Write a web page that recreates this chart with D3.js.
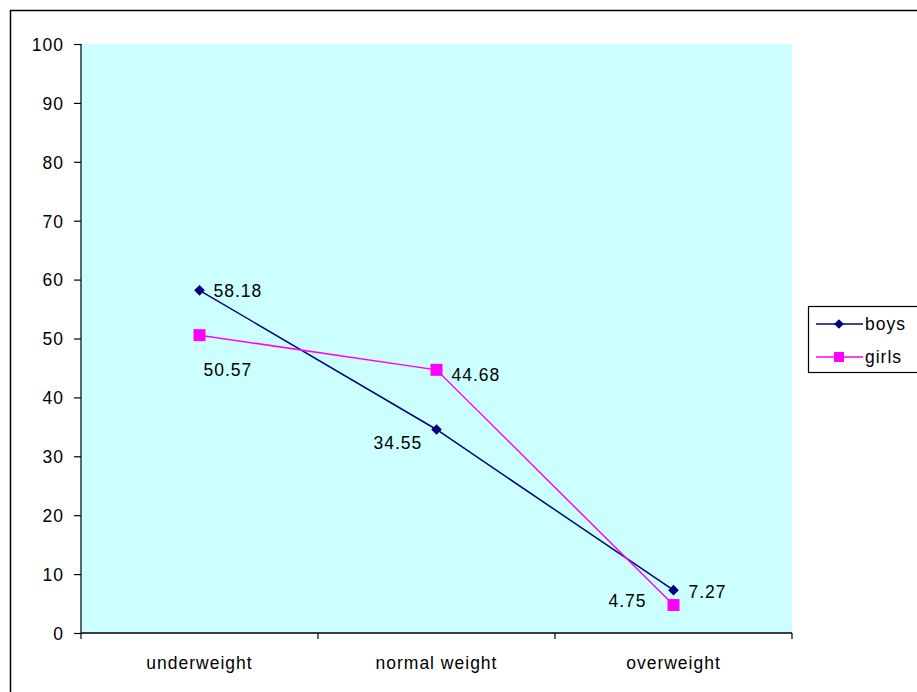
<!DOCTYPE html>
<html>
<head>
<meta charset="utf-8">
<script src="https://cdn.jsdelivr.net/npm/d3@7"></script>
<style>
  html, body { margin: 0; padding: 0; background: #fff; }
  svg { display: block; font-family: Arial, "Liberation Sans", sans-serif; }
  text { font-size: 17.5px; letter-spacing: 1px; fill: #000; }
</style>
</head>
<body>
<svg id="chart" width="917" height="692"></svg>
<script>
// Weight categories and percentages per group
const categories = ["underweight", "normal weight", "overweight"];
const boys = [58.18, 34.55, 7.27];
const girls = [50.57, 44.68, 4.75];
const yTicks = [0, 10, 20, 30, 40, 50, 60, 70, 80, 90, 100];
const seriesNames = ["boys", "girls"];

const svg = d3.select("#chart");
const W = 917, H = 692;
const plot = { left: 81, top: 44, right: 792, bottom: 633 };

// outer chart frame (runs past the right and bottom edges)
svg.append("rect")
  .attr("x", 10.5).attr("y", 10.5)
  .attr("width", W).attr("height", H)
  .attr("fill", "#fff").attr("stroke", "#000").attr("stroke-width", 1.5);

const x = d3.scaleBand().domain(categories).range([plot.left, plot.right]);
const y = d3.scaleLinear().domain([0, 100]).range([plot.bottom, plot.top]);

// plot background
svg.append("rect")
  .attr("x", plot.left).attr("y", plot.top)
  .attr("width", plot.right - plot.left).attr("height", plot.bottom - plot.top)
  .attr("fill", "#CCFFFF");

// y axis
const yAxis = svg.append("g")
  .attr("transform", `translate(${plot.left},0)`)
  .call(d3.axisLeft(y).tickValues(yTicks).tickSize(7).tickPadding(10));
yAxis.attr("font-size", null).attr("font-family", null);
yAxis.selectAll("text").attr("fill", "#000").attr("dy", "0.36em");
yAxis.selectAll("line, path").attr("stroke", "#000").attr("stroke-width", 1.2);
yAxis.select("path").attr("d", `M0,${plot.top}V${plot.bottom}`);

// x axis with ticks between categories
const xAxis = svg.append("g")
  .attr("transform", `translate(0,${plot.bottom})`);
xAxis.append("line")
  .attr("x1", plot.left).attr("x2", plot.right)
  .attr("stroke", "#000").attr("stroke-width", 1.5);
const edges = [plot.left].concat(categories.map(c => x(c) + x.bandwidth()));
xAxis.selectAll("line.tick").data(edges).enter().append("line")
  .attr("class", "tick")
  .attr("x1", d => d).attr("x2", d => d)
  .attr("y1", 0).attr("y2", 6)
  .attr("stroke", "#000").attr("stroke-width", 1.2);
xAxis.selectAll("text").data(categories).enter().append("text")
  .attr("x", d => x(d) + x.bandwidth() / 2)
  .attr("y", 36)
  .attr("text-anchor", "middle")
  .text(d => d);

const cx = c => x(c) + x.bandwidth() / 2;
const line = d3.line().x((d, i) => cx(categories[i])).y(d => y(d));

// boys series
svg.append("path").datum(boys)
  .attr("d", line).attr("fill", "none")
  .attr("stroke", "#000080").attr("stroke-width", 1.5);
svg.selectAll("path.boyMark").data(boys).enter().append("path")
  .attr("class", "boyMark")
  .attr("d", d3.symbol().type(d3.symbolDiamond2).size(72))
  .attr("transform", (d, i) => `translate(${cx(categories[i])},${y(d)})`)
  .attr("fill", "#000080");

// girls series
svg.append("path").datum(girls)
  .attr("d", line).attr("fill", "none")
  .attr("stroke", "#FF00FF").attr("stroke-width", 1.5);
svg.selectAll("rect.girlMark").data(girls).enter().append("rect")
  .attr("class", "girlMark")
  .attr("x", (d, i) => cx(categories[i]) - 6)
  .attr("y", d => y(d) - 6)
  .attr("width", 12).attr("height", 12)
  .attr("fill", "#FF00FF");

// value labels
const boyOffsets = [[14, 7], [-63, 19], [15, 8]];
const girlOffsets = [[4, 41], [15, 11], [-65, 2]];
svg.selectAll("text.boyLabel").data(boys).enter().append("text")
  .attr("class", "boyLabel")
  .attr("x", (d, i) => cx(categories[i]) + boyOffsets[i][0])
  .attr("y", (d, i) => y(d) + boyOffsets[i][1])
  .text(d => d.toFixed(2));
svg.selectAll("text.girlLabel").data(girls).enter().append("text")
  .attr("class", "girlLabel")
  .attr("x", (d, i) => cx(categories[i]) + girlOffsets[i][0])
  .attr("y", (d, i) => y(d) + girlOffsets[i][1])
  .text(d => d.toFixed(2));

// legend
const lg = svg.append("g").attr("transform", "translate(808,306)");
lg.append("rect")
  .attr("x", 0.5).attr("y", 0.5).attr("width", 120).attr("height", 66)
  .attr("fill", "#fff").attr("stroke", "#000").attr("stroke-width", 1.2);
const colors = ["#000080", "#FF00FF"];
seriesNames.forEach((name, i) => {
  const ly = 18 + i * 33;
  lg.append("line")
    .attr("x1", 8).attr("x2", 55).attr("y1", ly).attr("y2", ly)
    .attr("stroke", colors[i]).attr("stroke-width", 1.5);
  if (i === 0) {
    lg.append("path")
      .attr("d", d3.symbol().type(d3.symbolDiamond2).size(60))
      .attr("transform", `translate(31,${ly})`)
      .attr("fill", colors[i]);
  } else {
    lg.append("rect")
      .attr("x", 26).attr("y", ly - 5).attr("width", 10).attr("height", 10)
      .attr("fill", colors[i]);
  }
  lg.append("text")
    .attr("x", 57).attr("y", ly + 6)
    .text(name);
});
</script>
</body>
</html>
